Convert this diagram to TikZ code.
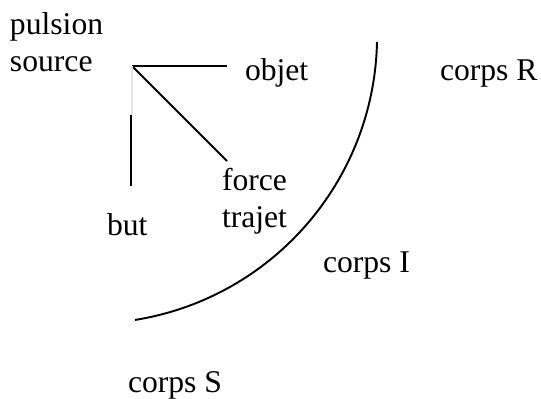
\documentclass[tikz,border=0pt]{standalone}
\usepackage{fontspec}
\setmainfont{Liberation Serif}
\usepackage{tikz}
\usetikzlibrary{positioning}

\begin{document}
\begin{tikzpicture}[
    label/.style={inner sep=0pt, outer sep=0pt, align=left,
                  font=\fontsize{18}{21}\selectfont},
    stroke/.style={line width=1.1pt, line cap=butt},
    ghost/.style={line width=0.8pt, black!10},
]
\useasboundingbox (0,0) rectangle (10.82,7.96);

% ── Left column : source and its three branches ────────────────────
\node[label, anchor=west]      (pulsion) at (0.20,7.12) {pulsion\\source};
\node[label, anchor=base west] (objet)   at (4.90,6.34) {objet};
\node[label, anchor=west]      (force)   at (4.44,3.93) {force\\trajet};
\node[label, anchor=base west] (but)     at (2.14,3.26) {but};

% ── Bodies ─────────────────────────────────────────────────────────
\node[label, anchor=base west] (corpsR)  at (8.80,6.34) {corps R};
\node[label, anchor=base west] (corpsI)  at (6.46,2.52) {corps I};
\node[label, anchor=base west] (corpsS)  at (2.56,0.12) {corps S};

% ── Branch end points ──────────────────────────────────────────────
\coordinate (pivot)   at (2.64,6.64);
\coordinate (objEnd)  at (4.54,6.64);
\coordinate (frcEnd)  at (4.54,4.74);
\coordinate (gap)     at (2.64,5.66);
\coordinate (butTop)  at (2.62,5.66);
\coordinate (butBot)  at (2.62,4.24);
\coordinate (arcTop)  at (7.54,7.12);

% ── Branches ───────────────────────────────────────────────────────
\draw[stroke] (pivot) -- (objEnd);
\draw[stroke] (pivot) -- (frcEnd);
\draw[ghost]  (pivot) -- (gap);
\draw[stroke] (butTop) -- (butBot);

% ── Boundary arc between the bodies ────────────────────────────────
\draw[stroke] (arcTop) arc[start angle=-1.2, end angle=-80.9, radius=5.752];

\end{tikzpicture}
\end{document}
